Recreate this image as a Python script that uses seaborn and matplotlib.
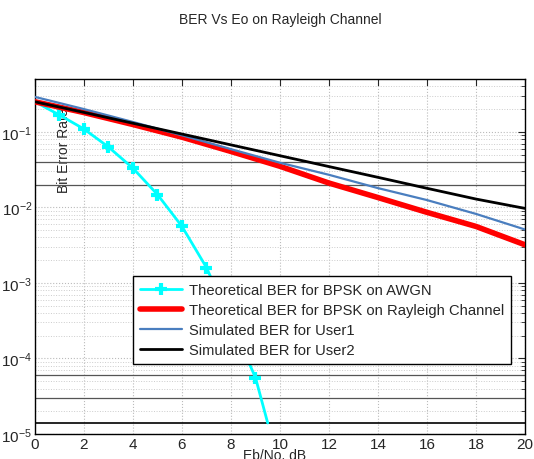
import numpy as np
import pandas as pd
import matplotlib
matplotlib.use('Agg')
import matplotlib.pyplot as plt
from matplotlib.ticker import LogLocator, NullFormatter
import seaborn as sns

# values
snr_awgn = [0, 1, 2, 3, 4, 5, 6, 7, 8, 9, 9.5]
ber_awgn = [0.25, 0.167, 0.109, 0.063, 0.033, 0.0148, 0.0056, 0.0016, 3.0e-4, 5.6e-5, 1.4e-5]

snr = [0, 2, 4, 6, 8, 10, 12, 14, 16, 18, 20]
ber_rayleigh = [0.25, 0.18, 0.125, 0.085, 0.055, 0.035, 0.021, 0.0135, 0.0086, 0.0056, 0.0032]
ber_user1 = [0.29, 0.20, 0.135, 0.090, 0.059, 0.039, 0.027, 0.018, 0.0125, 0.0082, 0.0051]
ber_user2 = [0.25, 0.181, 0.130, 0.0935, 0.0672, 0.0483, 0.0347, 0.025, 0.0179, 0.0129, 0.0097]

# stray dark horizontal lines in the source image
stray_lines = [0.04, 0.02, 6e-5, 3e-5]
stray_black = [1.4e-5]

sns.set_style('white')
plt.rcParams['font.family'] = ['Liberation Sans', 'DejaVu Sans']

fig = plt.figure(figsize=(5.34, 4.6), dpi=100)
ax = fig.add_axes([0.0655, 0.0543, 0.9175, 0.7717])

for v in stray_lines:
    ax.axhline(v, color='#555555', lw=0.9, zorder=1)
for v in stray_black:
    ax.axhline(v, color='black', lw=1.2, zorder=1)

sns.lineplot(x=snr_awgn, y=ber_awgn, ax=ax, color='cyan', lw=2, marker='+',
             markersize=9, mew=3, mec='cyan', markevery=list(range(1, 10)),
             label='Theoretical BER for BPSK on AWGN', zorder=3)
sns.lineplot(x=snr, y=ber_rayleigh, ax=ax, color='red', lw=4,
             label='Theoretical BER for BPSK on Rayleigh Channel', zorder=3)
sns.lineplot(x=snr, y=ber_user1, ax=ax, color='#4a7ebf', lw=1.6,
             label='Simulated BER for User1', zorder=4)
sns.lineplot(x=snr, y=ber_user2, ax=ax, color='black', lw=2,
             label='Simulated BER for User2', zorder=4)

ax.set_yscale('log')
ax.set_xlim(0, 20)
ax.set_ylim(1e-5, 0.5)
ax.set_xticks(range(0, 21, 2))
ax.yaxis.set_major_locator(LogLocator(base=10, numticks=10))
ax.yaxis.set_minor_locator(LogLocator(base=10, subs=np.arange(2, 10), numticks=20))
ax.yaxis.set_minor_formatter(NullFormatter())

ax.grid(True, which='major', color='#bbbbbb', ls=':', lw=0.8)
ax.grid(True, which='minor', axis='y', color='#cccccc', ls=':', lw=0.7)
ax.tick_params(which='both', direction='in', top=True, right=True, labelsize=11, pad=2)
ax.tick_params(which='major', length=5)
ax.tick_params(which='minor', length=3)
for s in ax.spines.values():
    s.set_color('black')
    s.set_linewidth(1)

ax.set_title('BER Vs Eo on Rayleigh Channel', fontsize=10, pad=40)
ax.set_xlabel('Eb/No. dB', fontsize=10)
ax.xaxis.set_label_coords(0.49, -0.04)
ax.set_ylabel('Bit Error Rate', fontsize=10)
ax.yaxis.set_label_coords(0.073, 0.80)

leg = ax.legend(loc='lower left', bbox_to_anchor=(0.2, 0.197), fontsize=10.6,
                frameon=True, fancybox=False, edgecolor='black', framealpha=1,
                borderaxespad=0, handlelength=2.9, handletextpad=0.45,
                borderpad=0.45, labelspacing=0.42)
leg.get_frame().set_linewidth(1)

fig.savefig('out.png', dpi=100)
